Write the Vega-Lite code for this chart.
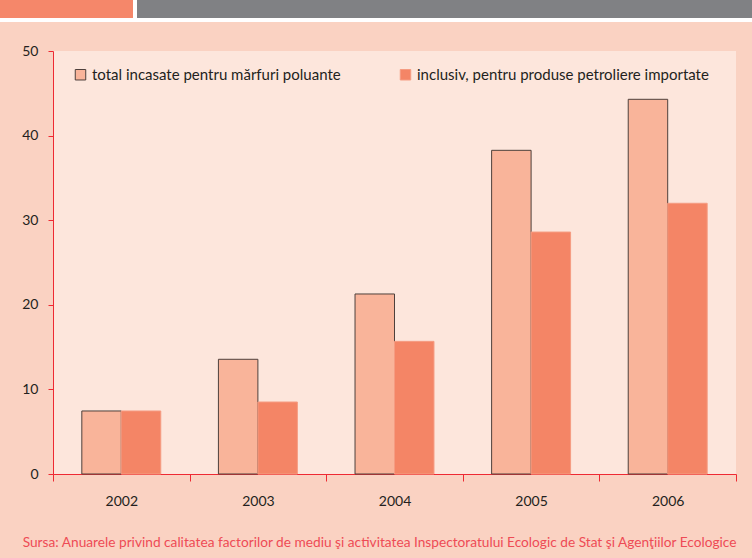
{
  "$schema": "https://vega.github.io/schema/vega-lite/v6.json",
  "background": "#FAD2C2",
  "padding": {"left": 0, "top": 0, "right": 0, "bottom": 8},
  "autosize": {"type": "pad"},
  "config": {
    "font": "Lato",
    "view": {"stroke": null}
  },
  "datasets": {
    "incasari": [
      {"an": "2002", "serie": "total incasate pentru mărfuri poluante", "valoare": 7.45},
      {"an": "2002", "serie": "inclusiv, pentru produse petroliere importate", "valoare": 7.45},
      {"an": "2003", "serie": "total incasate pentru mărfuri poluante", "valoare": 13.56},
      {"an": "2003", "serie": "inclusiv, pentru produse petroliere importate", "valoare": 8.51},
      {"an": "2004", "serie": "total incasate pentru mărfuri poluante", "valoare": 21.28},
      {"an": "2004", "serie": "inclusiv, pentru produse petroliere importate", "valoare": 15.68},
      {"an": "2005", "serie": "total incasate pentru mărfuri poluante", "valoare": 38.26},
      {"an": "2005", "serie": "inclusiv, pentru produse petroliere importate", "valoare": 28.6},
      {"an": "2006", "serie": "total incasate pentru mărfuri poluante", "valoare": 44.29},
      {"an": "2006", "serie": "inclusiv, pentru produse petroliere importate", "valoare": 32.0}
    ],
    "gol": []
  },
  "bounds": "flush",
  "spacing": 51,
  "vconcat": [
    {
      "bounds": "flush",
      "spacing": 18,
      "vconcat": [
        {
          "bounds": "flush",
          "spacing": 0,
          "hconcat": [
            {"width": 133, "height": 18, "data": {"name": "gol"}, "mark": "rect", "encoding": {}, "view": {"fill": "#F5876A", "stroke": null}},
            {"width": 4, "height": 18, "data": {"name": "gol"}, "mark": "rect", "encoding": {}, "view": {"fill": "#FFFFFF", "stroke": null}},
            {"width": 615, "height": 18, "data": {"name": "gol"}, "mark": "rect", "encoding": {}, "view": {"fill": "#808184", "stroke": null}}
          ]
        },
        {"width": 752, "height": 4, "data": {"name": "gol"}, "mark": "rect", "encoding": {}, "view": {"fill": "#FFFFFF", "stroke": null}}
      ]
    },
    {
      "bounds": "flush",
      "spacing": 0,
      "hconcat": [
        {"width": 53, "height": 423, "data": {"name": "gol"}, "mark": "rect", "encoding": {}, "view": {"fill": null, "stroke": null}},
        {
          "width": 683,
          "height": 423,
          "view": {"fill": "#FDE6DC", "stroke": null},
          "title": {
            "text": "Sursa: Anuarele privind calitatea factorilor de mediu şi activitatea Inspectoratului Ecologic de Stat şi Agenţiilor Ecologice",
            "orient": "bottom",
            "anchor": "end",
            "font": "Lato",
            "fontSize": 13.7,
            "fontWeight": "normal",
            "color": "#EE4B55",
            "offset": 28
          },
          "data": {"name": "incasari"},
          "mark": {"type": "bar", "strokeWidth": 1},
          "encoding": {
            "x": {
              "field": "an",
              "type": "nominal",
              "scale": {"paddingInner": 0, "paddingOuter": 0},
              "axis": {
                "title": null,
                "labelAngle": 0,
                "labelFontSize": 14,
                "labelColor": "#231F20",
                "labelPadding": 13,
                "domainColor": "#EE2A33",
                "tickColor": "#EE2A33",
                "tickSize": 7,
                "tickBand": "extent",
                "grid": false
              }
            },
            "xOffset": {
              "field": "serie",
              "sort": ["total incasate pentru mărfuri poluante", "inclusiv, pentru produse petroliere importate"],
              "scale": {"paddingInner": 0, "paddingOuter": 0.73}
            },
            "y": {
              "field": "valoare",
              "type": "quantitative",
              "scale": {"domain": [0, 50], "nice": false},
              "axis": {
                "title": null,
                "values": [0, 10, 20, 30, 40, 50],
                "labelFontSize": 14,
                "labelColor": "#231F20",
                "labelPadding": 10,
                "domainColor": "#EE2A33",
                "tickColor": "#EE2A33",
                "tickSize": 5,
                "grid": false
              }
            },
            "fill": {
              "field": "serie",
              "type": "nominal",
              "sort": ["total incasate pentru mărfuri poluante", "inclusiv, pentru produse petroliere importate"],
              "scale": {"range": ["#F9B49A", "#F48566"]},
              "legend": {
                "title": null,
                "orient": "none",
                "legendX": 73,
                "legendY": 67,
                "direction": "horizontal",
                "symbolType": "square",
                "symbolSize": 110,
                "symbolStrokeWidth": 1,
                "labelFontSize": 15,
                "labelLimit": 400,
                "labelColor": "#231F20",
                "labelOffset": 4,
                "columnPadding": 57,
                "encode": {
                  "symbols": {
                    "update": {
                      "stroke": {"scale": "stroke", "field": "value"},
                      "strokeWidth": {"value": 1}
                    }
                  }
                }
              }
            },
            "stroke": {
              "field": "serie",
              "type": "nominal",
              "sort": ["total incasate pentru mărfuri poluante", "inclusiv, pentru produse petroliere importate"],
              "scale": {"range": ["#4E403C", "#F59C82"]},
              "legend": null
            }
          }
        }
      ]
    }
  ]
}
